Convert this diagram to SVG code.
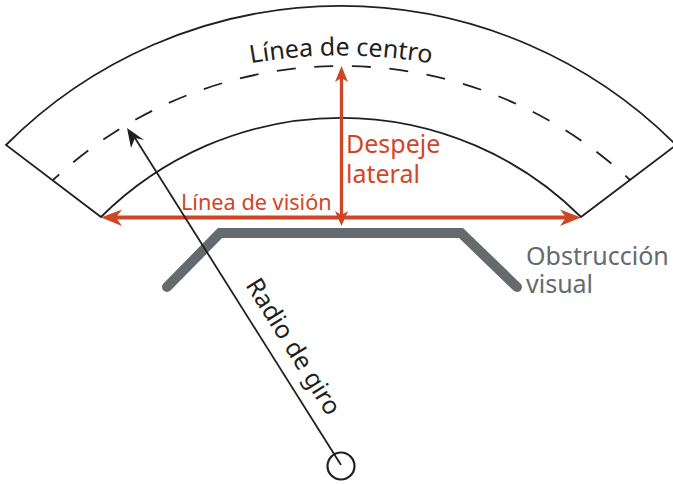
<svg xmlns="http://www.w3.org/2000/svg" width="673" height="485" viewBox="0 0 673 485">
<style>
.t{font-family:"Noto Sans","Open Sans","Liberation Sans",sans-serif}
.b{fill:none;stroke:#231f20;stroke-width:1.8}
.red{fill:#cf4627;font-size:25px}
.rl{stroke:#cf4627;fill:none}
.rh{fill:#cf4627}
.blk{fill:#231f20;font-size:25px}
</style>
<defs>
<path id="cp" d="M110 109.6 A 520 520 0 0 1 572 109.6"/>
</defs>
<rect width="673" height="485" fill="#fff"/>
<g id="carril">
<path class="b" d="M6 145 A 473 473 0 0 1 676 145 L581 217 A 340 340 0 0 0 101 217 Z"/>
</g>
<g id="linea-centro">
<path class="b" stroke-dasharray="19 18.6" stroke-dashoffset="10.5" d="M53 180 A 422 422 0 0 1 630 180"/>
<text class="t blk"><textPath href="#cp" startOffset="50%" text-anchor="middle">Línea de centro</textPath></text>
</g>
<g id="obstruccion">
<path d="M167 287 L220 233 H461 L517 287" fill="none" stroke="#656a6d" stroke-width="10" stroke-linecap="round" stroke-linejoin="miter"/>
<text class="t" font-size="25" fill="#656a6d" x="526" y="265">Obstrucción</text>
<text class="t" font-size="25" fill="#656a6d" x="526" y="293">visual</text>
</g>
<g id="connectors">
<path class="rl" stroke-width="4" d="M112 217.5 H570"/>
<path class="rh" d="M101 217.5 L122 209.5 L116 217.5 L122 226 Z"/>
<path class="rh" d="M581 217.5 L560 209.5 L566 217.5 L560 226 Z"/>
<path class="rl" stroke-width="3.3" d="M341.5 76 V218"/>
<path class="rh" d="M341.5 66 L348 82 L341.5 78 L335 82 Z"/>
<path class="rh" d="M341.5 226 L335 211 L341.5 215 L348 211 Z"/>
<path class="b" stroke-width="2" d="M341 465 L135 138"/>
<path fill="#231f20" d="M127 128 L144 140 L135 138 L131 148 Z"/>
</g>
<g id="etiquetas">
<text class="t red" x="346" y="153">Despeje</text>
<text class="t red" x="346" y="183">lateral</text>
<text class="t" font-size="21.7" fill="#cf4627" x="181" y="210">Línea de visión</text>
</g>
<g id="radio">
<circle cx="341" cy="466" r="13.5" fill="none" stroke="#231f20" stroke-width="2.2"/>
<text class="t blk" transform="translate(245 285) rotate(58)">Radio de giro</text>
</g>
</svg>
